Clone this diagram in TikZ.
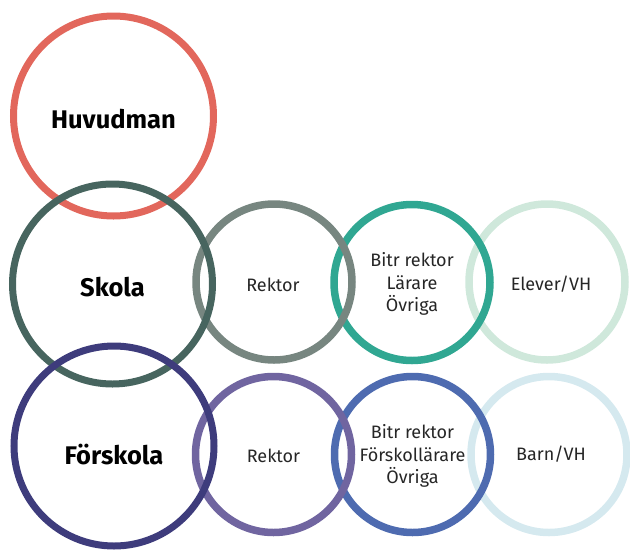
\documentclass[tikz,border=0pt]{standalone}
\usepackage{fontspec}
\setmainfont{Fira Sans}
\definecolor{cHuv}{HTML}{E2675C}
\definecolor{cSko}{HTML}{47655F}
\definecolor{cFor}{HTML}{3E3C7C}
\definecolor{cRekA}{HTML}{778680}
\definecolor{cBitA}{HTML}{30A792}
\definecolor{cElev}{HTML}{CFE8DB}
\definecolor{cRekB}{HTML}{7065A0}
\definecolor{cBitB}{HTML}{4E6BB0}
\definecolor{cBarn}{HTML}{D5E9EF}
\tikzset{
  bigring/.style={circle, draw=#1, line width=7pt, minimum size=200pt, inner sep=0pt},
  smallring/.style={circle, draw=#1, line width=7.5pt, minimum size=156pt, inner sep=0pt},
  bigtext/.style={font=\fontsize{25.5}{28}\selectfont\bfseries, text=black, inner sep=0pt},
  smalltext/.style={font=\fontsize{18}{22.5}\selectfont, align=center, text=black!85, inner sep=0pt}
}
\begin{document}
\begin{tikzpicture}[x=1pt,y=1pt]
\useasboundingbox (0,0) rectangle (630,-550);
\node[bigring=cHuv] (huv) at (113.5,-116) {};
\node[bigtext] (huvT) at (113.5,-119) {Huvudman};
\node[smallring=cElev] (elev) at (547,-282) {};
\node[smallring=cBitA] (bitA) at (412,-282.5) {};
\node[smallring=cRekA] (rekA) at (274,-282) {};
\node[bigring=cSko] (sko) at (112.5,-284) {};
\node[bigtext] (skoT) at (112.5,-287) {Skola};
\node[smalltext] (elevT) at (551,-284) {Elever/VH};
\node[smalltext] (bitAT) at (412,-284) {Bitr rektor\\Lärare\\Övriga};
\node[smalltext] (rekAT) at (273,-285) {Rektor};
\node[smallring=cBarn] (barn) at (549,-454.5) {};
\node[smallring=cBitB] (bitB) at (412.5,-454.5) {};
\node[smallring=cRekB] (rekB) at (273.5,-454.5) {};
\node[bigring=cFor] (for) at (114,-446) {};
\node[bigtext] (forT) at (114,-455) {Förskola};
\node[smalltext] (barnT) at (551,-454) {Barn/VH};
\node[smalltext] (bitBT) at (412.5,-456) {Bitr rektor\\Förskollärare\\Övriga};
\node[smalltext] (rekBT) at (273.5,-456) {Rektor};
\end{tikzpicture}
\end{document}
